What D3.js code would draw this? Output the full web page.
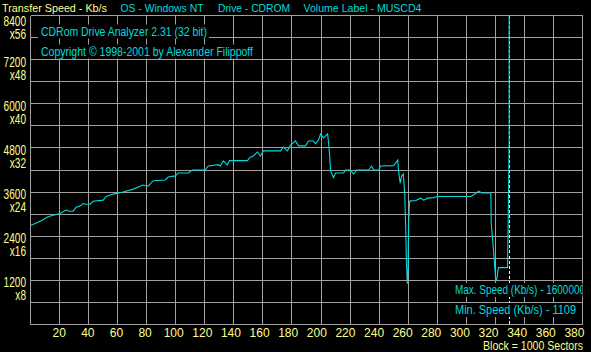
<!DOCTYPE html>
<html>
<head>
<meta charset="utf-8">
<script src="https://cdn.jsdelivr.net/npm/d3@7/dist/d3.min.js"></script>
<style>
body { margin: 0; background: #000; }
svg { display: block; }
</style>
</head>
<body>
<svg width="591" height="352"></svg>
<script>
// transfer speed curve, block (x1000 sectors) vs Kb/s
var blocks = [0, 5.2, 8.6, 12.1, 15.5, 19, 21, 24.5, 26.6, 29.3, 31.4, 34.1, 36.2, 38.3, 41, 43.1, 50, 52.1, 56.9, 63.8,
	70.7, 77.6, 81, 84.5, 92.8, 94.8, 99.7, 101.7, 108.6, 111.4, 120.3, 122.4, 129.3, 130.7, 132.8, 135.5, 136.9, 149.3,
	151.4, 153.4, 156.2, 158.3, 160.3, 172.1, 174.1, 176.9, 179, 182.4, 184.5, 189.3, 191.4, 194.8, 196.2, 198.3, 199.7,
	201.7, 204.5, 205.2, 205.9, 206.6, 208.6, 210, 215.5, 216.9, 220.3, 222.4, 224.5, 232.8, 234.8, 236.2, 239.7, 241,
	250, 252.8, 253.4, 254.5, 255.5, 256.6, 257.6, 258.3, 258.8, 259.4, 260, 260.3, 261, 265.2, 268.6, 270.7, 273.4,
	277.6, 280.3, 303.1, 305.9, 308.6, 310.7, 316.9, 317.2, 318.9, 320.3, 321, 322.1, 328.4, 328.8, 329.5, 330];
var speeds = [2690, 2780, 2850, 2930, 2970, 3000, 3030, 3110, 3080, 3080, 3190, 3220, 3290, 3270, 3270, 3350, 3380, 3480, 3545, 3600,
	3680, 3790, 3760, 3910, 3930, 4010, 4040, 4120, 4120, 4200, 4200, 4310, 4345, 4310, 4445, 4335, 4455, 4455,
	4555, 4580, 4690, 4580, 4720, 4720, 4825, 4720, 4880, 4990, 4855, 4855, 4990, 4990, 4910, 5020, 5180,
	5070, 5180, 4940, 4610, 4170, 3995, 4120, 4120, 4200, 4200, 4090, 4200, 4200, 4310, 4200, 4200, 4310,
	4320, 4470, 4170, 3845, 4035, 4090, 3575, 2620, 1665, 1109, 1610, 2780, 3355, 3370, 3435, 3380, 3435,
	3450, 3480, 3480, 3545, 3625, 3575, 3575, 2730, 1935, 1200, 1230, 1545, 1545, 2700, 5020, 1600000];
var endBlock = 329.5;

var xTicks = [20, 40, 60, 80, 100, 120, 140, 160, 180, 200, 220, 240, 260, 280, 300, 320, 340, 360, 380];
var yTicks = [1200, 2400, 3600, 4800, 6000, 7200, 8400];
var yTickX = ['x8', 'x16', 'x24', 'x32', 'x40', 'x48', 'x56'];

var headers = ['Transfer Speed - Kb/s', 'OS - Windows NT', 'Drive - CDROM', 'Volume Label - MUSCD4'];
var infoLines = ['CDRom Drive Analyzer 2.31 (32 bit)', 'Copyright \u00a9 1998-2001 by Alexander Filippoff'];
var statLines = ['Max. Speed (Kb/s) - 1600000', 'Min.  Speed (Kb/s) - 1109'];
var blockLabel = 'Block = 1000 Sectors';

var yellow = '#ffff8c', cyan = '#00dcdc', grey = '#a0a0a0';
var font = 'Arial, "Liberation Sans", sans-serif';

var svg = d3.select('svg');
var plotL = 30.5, plotR = 582.5, plotT = 15.5, plotB = 324.5;

var xscale = d3.scaleLinear().domain([0, 380]).range([plotL, plotR]);
// the program spaces its block labels a little tighter than the grid
var xlabscale = xscale.copy().range([30.6, 574.4]);
var yscale = d3.scaleLinear().domain([0, 8400]).range([plotB, plotT]);
var px = v => Math.round(v - 0.5) + 0.5;

svg.append('rect').attr('width', 591).attr('height', 352).attr('fill', '#000');

svg.append('clipPath').attr('id', 'plotclip')
	.append('rect').attr('x', plotL).attr('y', plotT).attr('width', plotR - plotL).attr('height', plotB - plotT);

// grid
var grid = svg.append('g').attr('stroke', grey).attr('stroke-width', 1).attr('shape-rendering', 'crispEdges');
grid.selectAll('line.v').data(d3.range(0, 381, 20)).enter().append('line')
	.attr('x1', d => px(xscale(d))).attr('x2', d => px(xscale(d)))
	.attr('y1', plotT).attr('y2', plotB);
grid.selectAll('line.h').data(d3.range(0, 8401, 600)).enter().append('line')
	.attr('y1', d => px(yscale(d))).attr('y2', d => px(yscale(d)))
	.attr('x1', plotL).attr('x2', plotR);

// end-of-disc marker
svg.append('line')
	.attr('x1', px(xscale(endBlock))).attr('x2', px(xscale(endBlock)))
	.attr('y1', plotT).attr('y2', plotB)
	.attr('stroke', '#fff').attr('stroke-dasharray', '3,2').attr('shape-rendering', 'crispEdges');

// speed curve
var line = d3.line().x(d => xscale(d[0])).y(d => yscale(d[1]));
svg.append('path')
	.datum(d3.zip(blocks, speeds))
	.attr('clip-path', 'url(#plotclip)')
	.attr('d', line)
	.attr('fill', 'none').attr('stroke', cyan).attr('stroke-width', 1.1);

// y axis labels (two rows each)
var ylab = svg.append('g').attr('fill', yellow).attr('font-family', font).attr('font-size', 14);
yTicks.forEach(function (t, i) {
	var y = yscale(t) + (t === 8400 ? 3 : 0);
	ylab.append('text').attr('transform', `translate(26,${y + 7}) scale(0.72,1)`)
		.attr('text-anchor', 'end').text(t);
	ylab.append('text').attr('transform', `translate(26,${y + 20}) scale(0.72,1)`)
		.attr('text-anchor', 'end').text(yTickX[i]);
});

// x axis labels
svg.append('g').selectAll('text').data(xTicks).enter().append('text')
	.attr('x', d => xlabscale(d)).attr('y', 337)
	.attr('text-anchor', 'middle').attr('fill', yellow)
	.attr('font-family', font).attr('font-size', 12)
	.text(d => d);

function fit(sel, w) {
	return sel.attr('textLength', w).attr('lengthAdjust', 'spacingAndGlyphs');
}

fit(svg.append('text').attr('x', 583).attr('y', 349.5).attr('text-anchor', 'end')
	.attr('fill', yellow).attr('font-family', font).attr('font-size', 12).text(blockLabel), 100);

// header line
var hx = [2, 120.5, 218, 303.5], hw = [105, 83, 72, 118];
headers.forEach(function (h, i) {
	fit(svg.append('text').attr('x', hx[i]).attr('y', 12)
		.attr('fill', i === 0 ? yellow : cyan)
		.attr('font-family', font).attr('font-size', 11).text(h), hw[i]);
});

// boxed texts inside the plot
function boxed(txt, x, y, w, clip) {
	var g = svg.append('g');
	if (clip) g.attr('clip-path', 'url(#plotclip)');
	var bg = g.append('rect').attr('fill', '#000');
	var t = fit(g.append('text').attr('x', x).attr('y', y)
		.attr('fill', cyan).attr('font-family', font).attr('font-size', 12).text(txt), w);
	var b = t.node().getBBox();
	bg.attr('x', b.x - 3).attr('y', b.y).attr('width', b.width + 5).attr('height', b.height);
	return g;
}
boxed(infoLines[0], 41, 35.5, 166);
boxed(infoLines[1], 41, 55.5, 212);
boxed(statLines[0], 455, 294, 130, true);
boxed(statLines[1], 455, 314, 121, true);
</script>
</body>
</html>
